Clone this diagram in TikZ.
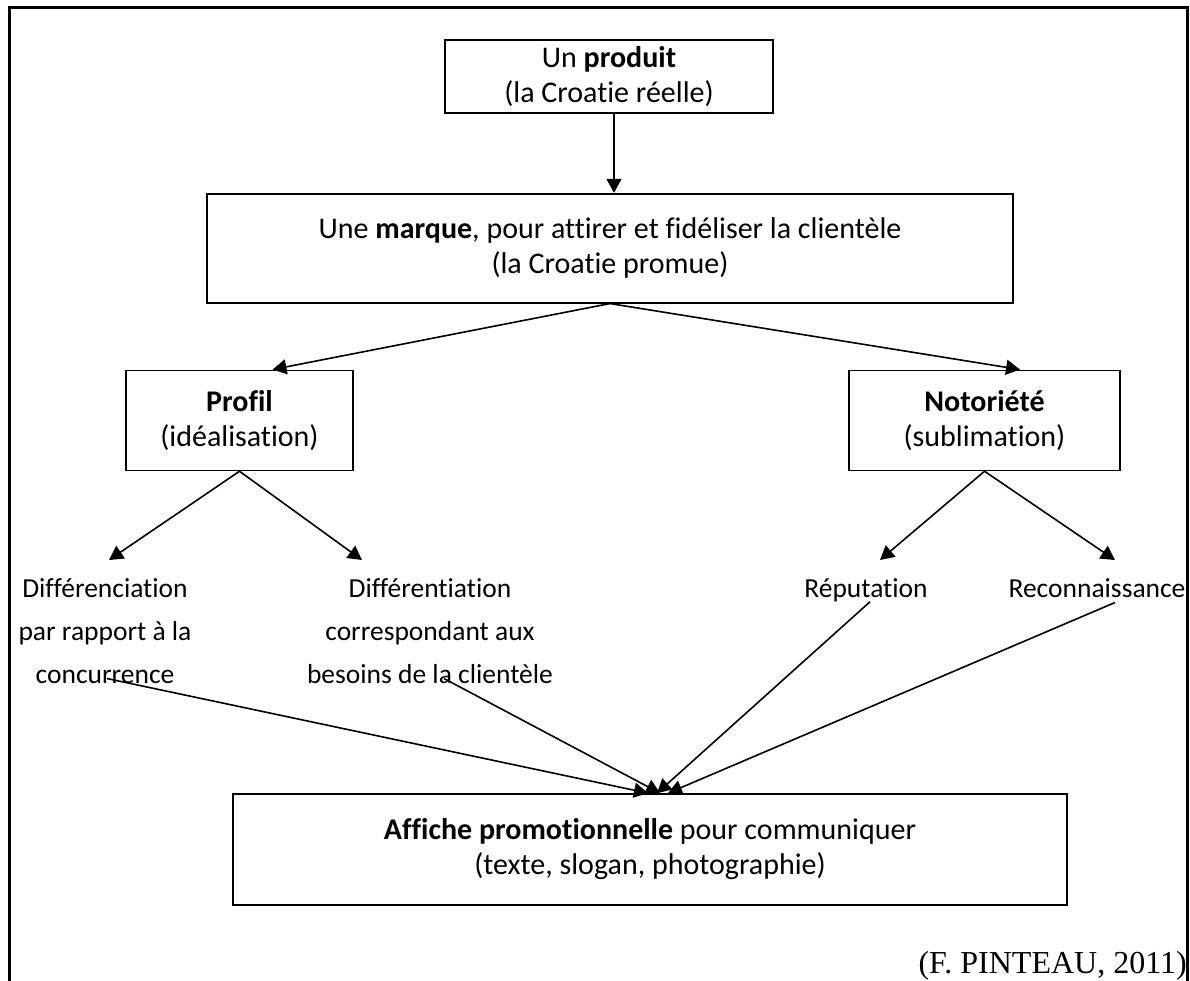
\documentclass[tikz,border=0pt]{standalone}
\usepackage{fontspec}
\setmainfont[Ligatures=CommonOff]{Carlito}
\newfontfamily\citefont{Liberation Serif}
\usetikzlibrary{arrows.meta,positioning}

\begin{document}
\begin{tikzpicture}[x=1pt,y=1pt,node distance=79pt,box/.style={draw,line width=1.7pt,align=center,inner sep=0pt,font=\fontsize{30}{35}\selectfont},lab/.style={align=center,inner sep=0pt,anchor=north,font=\fontsize{27.5}{43}\selectfont},arr/.style={-{Triangle[length=14pt,width=15pt]},line width=1.6pt}]
\useasboundingbox (0,0) rectangle (1190,-981);
\draw[line width=3pt] (9,-981) -- (9,-7.5) -- (1187,-7.5) -- (1187,-981);
\node[box,minimum width=328pt,minimum height=73pt] (produit) at (609,-76.5) {Un \textbf{produit}\\(la Croatie réelle)};
\node[box,minimum width=806pt,minimum height=109pt,below=of produit,xshift=1pt] (marque) {Une \textbf{marque}, pour attirer et fidéliser la clientèle\\(la Croatie promue)};
\node[box,minimum width=227pt,minimum height=100pt,below=66pt of marque.south,xshift=-370.5pt] (profil) {\textbf{Profil}\\(idéalisation)};
\node[box,minimum width=271pt,minimum height=100pt,below=66pt of marque.south,xshift=374.5pt] (notoriete) {\textbf{Notoriété}\\(sublimation)};
\node[lab] (diffa) at (105,-578) {Différenciation\\par rapport à la\\concurrence};
\node[lab] (diffb) at (430,-578) {Différentiation\\correspondant aux\\besoins de la clientèle};
\node[lab] (repu) at (866,-578) {Réputation};
\node[lab] (reco) at (1097,-578) {Reconnaissance};
\node[box,minimum width=834pt,minimum height=111pt] (affiche) at (650,-849.5) {\textbf{Affiche promotionnelle} pour communiquer\\(texte, slogan, photographie)};
\node[anchor=base east,inner sep=0pt,font=\citefont\fontsize{32}{38}\selectfont] (source) at (1187,-973) {(F. PINTEAU, 2011)};
\draw[arr] ([xshift=5pt]produit.south) -- ([xshift=4pt]marque.north);
\draw[arr] (marque.south) -- ([xshift=33pt]profil.north);
\draw[arr] (marque.south) -- ([xshift=35.5pt]notoriete.north);
\draw[arr] (profil.south) -- ([xshift=4pt,yshift=18pt]diffa.north);
\draw[arr] (profil.south) -- ([xshift=-68pt,yshift=18pt]diffb.north);
\draw[arr] (notoriete.south) -- ([xshift=14pt,yshift=18pt]repu.north);
\draw[arr] (notoriete.south) -- ([xshift=18pt,yshift=18pt]reco.north);
\draw[arr] ([xshift=2pt,yshift=5pt]diffa.south) -- ([xshift=-2pt]affiche.north);
\draw[arr] ([xshift=14pt,yshift=5pt]diffb.south) -- ([xshift=10pt]affiche.north);
\draw[arr] ([xshift=4pt]repu.south) -- ([xshift=7pt]affiche.north);
\draw[arr] ([xshift=18pt,yshift=-5pt]reco.south) -- ([xshift=18pt]affiche.north);
\end{tikzpicture}
\end{document}
